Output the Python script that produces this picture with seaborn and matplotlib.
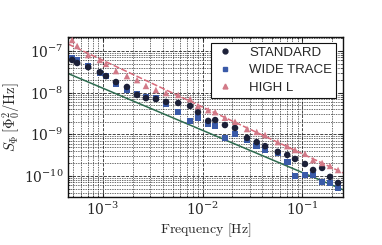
import matplotlib
matplotlib.use("Agg")
import matplotlib.pyplot as plt
from matplotlib.lines import Line2D
import seaborn as sns
import pandas as pd
import numpy as np

# Data (frequency bins shared by the three traces)
freq = [4.9e-4, 5.5e-4, 7.1e-4, 9.3e-4, 1.07e-3, 1.35e-3, 1.74e-3, 2.2e-3,
        2.7e-3, 3.4e-3, 4.3e-3, 5.7e-3, 7.5e-3, 9.0e-3, 1.14e-2, 1.34e-2,
        1.68e-2, 2.12e-2, 2.8e-2, 3.5e-2, 4.25e-2, 5.7e-2, 7.1e-2, 8.5e-2,
        0.107, 0.129, 0.159, 0.191, 0.230]
psd_standard = [6.1e-8, 5.15e-8, 4.1e-8, 3.1e-8, 2.5e-8, 1.8e-8, 1.37e-8, 8.8e-9,
                7.4e-9, 7.0e-9, 6.0e-9, 5.65e-9, 4.8e-9, 3.4e-9, 2.1e-9, 2.2e-9,
                1.67e-9, 1.42e-9, 8.2e-10, 6.5e-10, 5.2e-10, 3.8e-10, 3.2e-10, 2.56e-10,
                1.94e-10, 1.39e-10, 1.56e-10, 9.5e-11, 6.8e-11]
psd_wide = [6.8e-8, 6.1e-8, 4.4e-8, 2.96e-8, 2.5e-8, 1.61e-8, 1.16e-8, 9.3e-9,
            7.9e-9, 7.4e-9, 5.3e-9, 3.4e-9, 2.1e-9, 2.5e-9, 1.77e-9, 1.58e-9,
            8.2e-10, 1.02e-9, 7.3e-10, 5.2e-10, 4.2e-10, 3.6e-10, 2.17e-10, 1.0e-10,
            1.06e-10, 1.06e-10, 7.2e-11, 6.8e-11, 5.2e-11]
psd_high_l = [1.84e-7, 1.32e-7, 8.0e-8, 6.1e-8, 4.9e-8, 3.3e-8, 2.5e-8, 2.0e-8,
              1.45e-8, 1.16e-8, 9.8e-9, 8.8e-9, 7.0e-9, 4.8e-9, 3.8e-9, 3.4e-9,
              2.5e-9, 2.0e-9, 1.34e-9, 1.14e-9, 9.6e-10, 6.5e-10, 5.2e-10, 4.2e-10,
              3.4e-10, 2.4e-10, 2.05e-10, 1.74e-10, 1.39e-10]

# 1/f^alpha fit lines
fit_high_amp, fit_high_exp = 2.6e-11, 1.12
fit_low_amp, fit_low_exp = 1.19e-11, 1.01

labels = ["STANDARD", "WIDE TRACE", "HIGH L"]
colors = {"STANDARD": "#1c2038", "WIDE TRACE": "#3a5aa8", "HIGH L": "#d27a88"}
markers = {"STANDARD": "o", "WIDE TRACE": "s", "HIGH L": "^"}

sns.set_theme(style="ticks")
plt.rcParams["mathtext.fontset"] = "cm"
plt.rcParams["font.family"] = ["DejaVu Serif"]

df = pd.concat([
    pd.DataFrame({"f": freq, "S": psd_wide, "trace": "WIDE TRACE"}),
    pd.DataFrame({"f": freq, "S": psd_standard, "trace": "STANDARD"}),
    pd.DataFrame({"f": freq, "S": psd_high_l, "trace": "HIGH L"}),
])

xlim = (4.45e-4, 0.258)
ylim = (3.13e-11, 2.17e-7)
f_line = np.logspace(np.log10(xlim[0]), np.log10(xlim[1]), 50)
fits = pd.DataFrame({
    "f": np.concatenate([f_line, f_line]),
    "S": np.concatenate([fit_high_amp * f_line ** -fit_high_exp,
                         fit_low_amp * f_line ** -fit_low_exp]),
    "fit": ["high"] * len(f_line) + ["low"] * len(f_line),
})

fig = plt.figure(figsize=(3.82, 2.45), dpi=100)
ax = fig.add_axes([0.178, 0.196, 0.720, 0.653])
ax.set_xscale("log")
ax.set_yscale("log")

# dense dashed grid like the original
ax.grid(True, which="major", color="#111111", linestyle="--", linewidth=0.6, alpha=0.9)
ax.grid(True, which="minor", color="#111111", linestyle=(0, (2, 1.5)), linewidth=0.5, alpha=0.85)
ax.set_axisbelow(True)

sns.lineplot(data=fits[fits["fit"] == "low"], x="f", y="S", color="#2d6b4f",
             linewidth=1.1, ax=ax, legend=False)
sns.lineplot(data=fits[fits["fit"] == "high"], x="f", y="S", color="#d86a7a",
             linewidth=1.1, linestyle=(0, (4, 1.5)), ax=ax, legend=False)

sns.scatterplot(data=df, x="f", y="S", hue="trace", style="trace",
                palette=colors, markers=markers, hue_order=labels, style_order=labels,
                s=22, linewidth=0, ax=ax, legend=False, zorder=3)

ax.set_xlim(xlim)
ax.set_ylim(ylim)
ax.set_xlabel(r"$\mathrm{Frequency\ [Hz]}$", fontsize=10, labelpad=2)
ax.set_ylabel(r"$S_\Phi\,[\Phi_0^2/\mathrm{Hz}]$", fontsize=10.5, labelpad=1)
ax.tick_params(which="both", direction="in", top=True, right=True, labelsize=10)
ax.tick_params(which="major", length=3, width=0.8, pad=3)
ax.tick_params(which="minor", length=1.5, width=0.5)
ax.set_yticks([1e-10, 1e-9, 1e-8, 1e-7])
for s in ax.spines.values():
    s.set_color("#111111")
    s.set_linewidth(1.0)

handles = [Line2D([], [], linestyle="none", marker=markers[k], color=colors[k],
                  markersize=3.5) for k in labels]
leg = ax.legend(handles, labels, loc="upper right", bbox_to_anchor=(0.975, 0.965),
                borderaxespad=0, frameon=True, fancybox=False, edgecolor="#111111",
                framealpha=1, prop={"family": "Liberation Sans", "size": 9.5},
                handletextpad=1.0, borderpad=0.3, labelspacing=0.4, handlelength=1.6)
leg.get_frame().set_linewidth(0.8)

fig.savefig("out.png", dpi=100)
